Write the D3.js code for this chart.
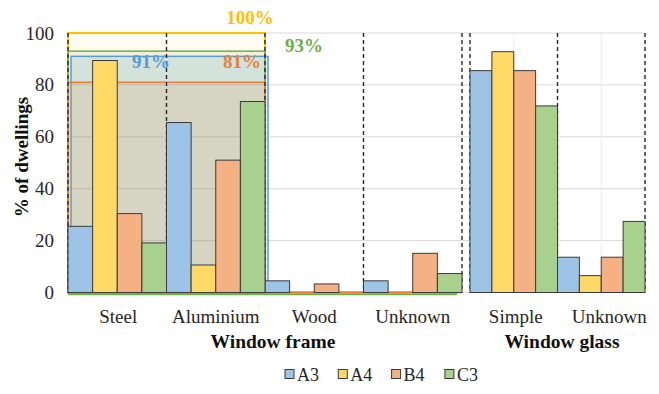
<!DOCTYPE html>
<html>
<head>
<meta charset="utf-8">
<script src="https://cdn.jsdelivr.net/npm/d3@7"></script>
<style>
  body { margin: 0; background: #fff; font-family: "Liberation Serif"; }
  svg { display: block; }
  svg text { font-family: "Liberation Serif" !important; }
</style>
</head>
<body>
<svg id="plot" width="659" height="394"></svg>
<script>
// ---- data ----
const series = ["A3", "A4", "B4", "C3"];
const seriesColors = ["#9dc3e6", "#ffd966", "#f4b183", "#a9d18e"];
const frameCategories = ["Steel", "Aluminium", "Wood", "Unknown"];
const glassCategories = ["Simple", "Unknown"];
// one row per series (A3, A4, B4, C3), one column per category
const frameValues = [
  [25.5, 65.5, 4.5, 4.5],
  [89.4, 10.6, 0, 0],
  [30.4, 51.0, 3.3, 15.1],
  [19.1, 73.6, 0, 7.3]
];
const glassValues = [
  [85.5, 13.6],
  [92.8, 6.5],
  [85.5, 13.6],
  [71.9, 27.4]
];
// share of dwellings with a metal frame (Steel + Aluminium), per series
const metalShare = [91, 100, 81, 93];
const shareColors = ["#5b9bd5", "#ffc000", "#ed7d31", "#70ad47"];
const yTicks = [0, 20, 40, 60, 80, 100];

// ---- layout ----
const svg = d3.select("#plot");
const y = d3.scaleLinear().domain([0, 100]).range([292.5, 33]);
const xFrame = d3.scaleBand().domain(frameCategories).range([68, 462]).padding(0);
const xGlass = d3.scaleBand().domain(glassCategories).range([470, 645]).padding(0);
const sFrame = d3.scaleBand().domain(series).range([0, xFrame.bandwidth()]).padding(0);
const sGlass = d3.scaleBand().domain(series).range([0, xGlass.bandwidth()]).padding(0);
const plotLeft = 68, plotRight = 645;

function label(parent) {
  return parent.append("text").style("font-family", '"Liberation Serif"');
}

// horizontal gridlines
svg.append("g").selectAll("line").data(yTicks).join("line")
  .attr("x1", plotLeft).attr("x2", plotRight)
  .attr("y1", d => y(d)).attr("y2", d => y(d))
  .attr("stroke", "#d9d9d9").attr("stroke-width", 1);

// faint vertical guides at glass category centres
svg.append("g").selectAll("line").data(glassCategories).join("line")
  .attr("x1", d => xGlass(d) + xGlass.bandwidth() / 2)
  .attr("x2", d => xGlass(d) + xGlass.bandwidth() / 2)
  .attr("y1", y(100)).attr("y2", y(0))
  .attr("stroke", "#ededed").attr("stroke-width", 1);

// metal-frame share boxes over Steel + Aluminium
const metalX0 = xFrame("Steel");
const metalX1 = xFrame("Aluminium") + xFrame.bandwidth();
const shareFill = [0.18, 0.05, 0.14, 0.12];
const shareShift = [3, 0, 0, 0];
const shareWidth = [1.5, 2, 1.6, 1.5];
const drawOrder = [1, 3, 0, 2];
const boxes = svg.append("g");
drawOrder.forEach(i => {
  boxes.append("rect")
    .attr("x", metalX0 + shareShift[i])
    .attr("y", y(metalShare[i]))
    .attr("width", metalX1 - metalX0)
    .attr("height", y(0) - y(metalShare[i]))
    .attr("fill", shareColors[i])
    .attr("fill-opacity", shareFill[i])
    .attr("stroke", shareColors[i])
    .attr("stroke-width", shareWidth[i]);
});

// baseline strokes under the remaining frame categories
svg.append("line")
  .attr("x1", plotLeft).attr("x2", xFrame("Unknown") + xFrame.bandwidth() - 5)
  .attr("y1", y(0) + 1.8).attr("y2", y(0) + 1.8)
  .attr("stroke", "#70ad47").attr("stroke-width", 2);
svg.append("line")
  .attr("x1", metalX1).attr("x2", xFrame("Unknown") + xFrame.bandwidth())
  .attr("y1", y(0) - 0.3).attr("y2", y(0) - 0.3)
  .attr("stroke", "#ed7d31").attr("stroke-width", 2);

// dashed category separators
const frameEdges = frameCategories.map(c => xFrame(c)).concat([xFrame.range()[1]]);
const glassEdges = glassCategories.map(c => xGlass(c)).concat([xGlass.range()[1]]);
svg.append("g").selectAll("line").data(frameEdges.concat(glassEdges)).join("line")
  .attr("x1", d => d).attr("x2", d => d)
  .attr("y1", y(100)).attr("y2", y(0))
  .attr("stroke", "#262626").attr("stroke-width", 1.4)
  .attr("stroke-dasharray", "4,3");

// bars
function drawBars(values, cats, xOuter, xInner) {
  const cells = [];
  values.forEach((row, si) => row.forEach((v, ci) => cells.push({ s: si, c: cats[ci], v })));
  svg.append("g").selectAll("rect").data(cells).join("rect")
    .attr("x", d => xOuter(d.c) + xInner(series[d.s]))
    .attr("y", d => y(d.v))
    .attr("width", xInner.bandwidth())
    .attr("height", d => y(0) - y(d.v))
    .attr("fill", d => seriesColors[d.s])
    .attr("stroke", "#3a3a3a").attr("stroke-width", 1);
}
drawBars(frameValues, frameCategories, xFrame, sFrame);
drawBars(glassValues, glassCategories, xGlass, sGlass);

// share labels
const shareLabelPos = [[151, 68], [250, 24], [242, 68], [304, 52]];
metalShare.forEach((v, i) => {
  label(svg)
    .attr("x", shareLabelPos[i][0]).attr("y", shareLabelPos[i][1])
    .attr("text-anchor", "middle")
    .attr("font-size", 19).attr("font-weight", "bold")
    .attr("fill", shareColors[i])
    .text(v + "%");
});

// y axis
const yAxis = svg.append("g").attr("transform", `translate(${plotLeft},0)`)
  .call(d3.axisLeft(y).tickValues(yTicks).tickSize(0).tickPadding(14));
yAxis.attr("font-family", null).attr("font-size", null);
yAxis.select(".domain").remove();
yAxis.selectAll("text")
  .style("font-family", '"Liberation Serif"')
  .attr("font-size", 19)
  .attr("fill", "#262626");

label(svg)
  .attr("transform", "translate(28,157) rotate(-90)")
  .attr("text-anchor", "middle")
  .attr("font-size", 19).attr("font-weight", "bold").attr("fill", "#111")
  .text("% of dwellings");

// category labels (the glass "Unknown" label sits a little right of its band centre)
function catLabels(cats, xOuter, shifts) {
  cats.forEach((c, i) => {
    label(svg)
      .attr("x", xOuter(c) + xOuter.bandwidth() / 2 + shifts[i])
      .attr("y", 323)
      .attr("text-anchor", "middle")
      .attr("font-size", 19).attr("fill", "#262626")
      .text(c);
  });
}
catLabels(frameCategories, xFrame, [1, 0, 0, 0]);
catLabels(glassCategories, xGlass, [2, 8]);

// group titles
[["Window frame", 273], ["Window glass", 562]].forEach(([t, x]) => {
  label(svg).attr("x", x).attr("y", 348).attr("text-anchor", "middle")
    .attr("font-size", 19.5).attr("font-weight", "bold").attr("fill", "#111")
    .text(t);
});

// legend
series.forEach((s, i) => {
  const x0 = 285 + i * 53.3;
  svg.append("rect")
    .attr("x", x0).attr("y", 369.5).attr("width", 9).attr("height", 9)
    .attr("fill", seriesColors[i])
    .attr("stroke", "#3a3a3a").attr("stroke-width", 1);
  label(svg)
    .attr("x", x0 + 12).attr("y", 381)
    .attr("font-size", 18).attr("fill", "#262626")
    .text(s);
});
</script>
</body>
</html>
